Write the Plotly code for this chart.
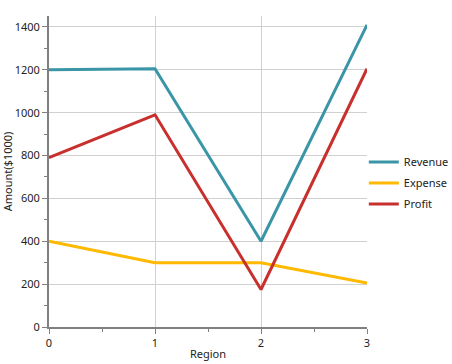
import plotly.graph_objects as go

regions = [0, 1, 2, 3]
revenue = [1200, 1205, 400, 1410]
expense = [400, 300, 300, 205]
profit = [790, 990, 175, 1205]

colors = {"Revenue": "#3A95A7", "Expense": "#FFB900", "Profit": "#C8302E"}

fig = go.Figure()
for name, vals in [("Revenue", revenue), ("Expense", expense), ("Profit", profit)]:
    fig.add_trace(go.Scatter(x=regions, y=vals, mode="lines", name=name, legendgroup=name,
                             line=dict(color=colors[name], width=3)))

font = "Segoe UI, Noto Sans, sans-serif"
fig.update_layout(
    width=452, height=364,
    margin=dict(l=49, r=85, t=16, b=37, autoexpand=False),
    paper_bgcolor="white", plot_bgcolor="white",
    font=dict(family=font, size=11, color="#222"),
    legend=dict(x=0.99, y=0.463, yanchor="middle", xanchor="left",
                font=dict(size=11, color="#222"), itemwidth=30,
                tracegroupgap=2, bgcolor="rgba(0,0,0,0)"),
    xaxis=dict(range=[0, 3], tickvals=regions, ticktext=[str(r) for r in regions],
               showgrid=True, gridcolor="#D0D0D0", gridwidth=1,
               showline=True, linecolor="#808080", linewidth=2,
               ticks="outside", ticklen=5, tickcolor="#808080",
               minor=dict(dtick=0.5, ticks="outside", ticklen=3, tickcolor="#808080", showgrid=False),
               title=dict(text="Region", standoff=1, font=dict(size=11)),
               zeroline=False, fixedrange=True, automargin=False),
    yaxis=dict(range=[0, 1451], dtick=200, tick0=0,
               showgrid=True, gridcolor="#D0D0D0", gridwidth=1,
               showline=True, linecolor="#808080", linewidth=2,
               ticks="outside", ticklen=5, tickcolor="#808080",
               minor=dict(dtick=100, ticks="outside", ticklen=3, tickcolor="#808080", showgrid=False),
               title=dict(text="Amount($1000)", standoff=0, font=dict(size=11)),
               zeroline=False, fixedrange=True, automargin=False),
)
fig.write_html("out.html", config={"displayModeBar": False},
               post_script="document.body.style.margin='0';")
